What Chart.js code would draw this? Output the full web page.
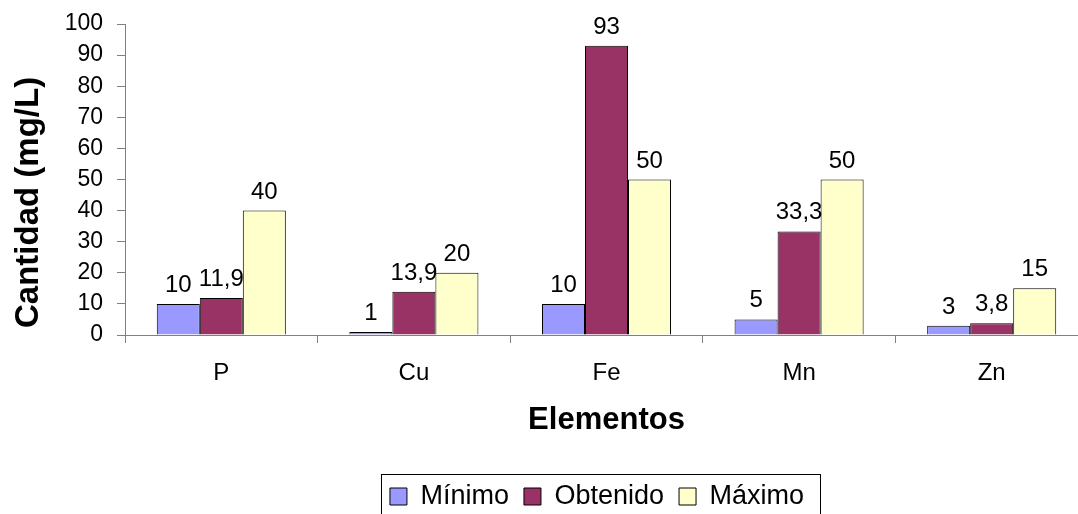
<!DOCTYPE html>
<html>
<head>
<meta charset="utf-8">
<script src="https://cdn.jsdelivr.net/npm/chart.js@4/dist/chart.umd.min.js"></script>
<style>
  html, body { margin: 0; padding: 0; background: #fff; overflow: hidden; }
</style>
</head>
<body>
<canvas id="elementosChart" width="1090" height="514"></canvas>
<script>
// Datos del gráfico
const elementos = ['P', 'Cu', 'Fe', 'Mn', 'Zn'];
const minimo = [10, 1, 10, 5, 3];
const obtenido = [11.9, 13.9, 93, 33.3, 3.8];
const maximo = [40, 20, 50, 50, 15];
const ticksY = [0, 10, 20, 30, 40, 50, 60, 70, 80, 90, 100];

const fuente = "'Liberation Sans', Arial, sans-serif";

// Etiquetas de valor encima de cada barra (coma decimal)
const etiquetasValor = {
  id: 'etiquetasValor',
  afterDatasetsDraw(chart) {
    const ctx = chart.ctx;
    ctx.save();
    ctx.font = '24px ' + fuente;
    ctx.fillStyle = '#000';
    ctx.textAlign = 'center';
    ctx.textBaseline = 'alphabetic';
    chart.data.datasets.forEach((ds, i) => {
      chart.getDatasetMeta(i).data.forEach((bar, j) => {
        const txt = String(ds.data[j]).replace('.', ',');
        ctx.fillText(txt, bar.x, bar.y - 12);
      });
    });
    ctx.restore();
  }
};

// Mueve la leyenda y le pone un marco
const marcoLeyenda = {
  id: 'marcoLeyenda',
  afterLayout(chart) {
    const lg = chart.legend;
    lg.left += 53; lg.right += 53;
    lg.top += 6; lg.bottom += 6;
  },
  afterDraw(chart) {
    const boxes = chart.legend.legendHitBoxes;
    if (!boxes || !boxes.length) return;
    const l = Math.min(...boxes.map(b => b.left));
    const r = Math.max(...boxes.map(b => b.left + b.width));
    const t = Math.min(...boxes.map(b => b.top));
    const ctx = chart.ctx;
    ctx.save();
    ctx.strokeStyle = '#000';
    ctx.lineWidth = 1;
    ctx.strokeRect(Math.round(l - 9) + 0.5, Math.round(t - 9) + 0.5, Math.round(r - l + 25), 80);
    ctx.restore();
  }
};

const ctx = document.getElementById('elementosChart');
new Chart(ctx.getContext('2d'), {
  type: 'bar',
  data: {
    labels: elementos,
    datasets: [
      { label: 'Mínimo', data: minimo, backgroundColor: '#9999FF', borderColor: '#000', borderWidth: 1 },
      { label: 'Obtenido', data: obtenido, backgroundColor: '#993366', borderColor: '#000', borderWidth: 1 },
      { label: 'Máximo', data: maximo, backgroundColor: '#FFFFCC', borderColor: '#000', borderWidth: 1 }
    ]
  },
  options: {
    responsive: false,
    animation: false,
    devicePixelRatio: 1,
    layout: { padding: { top: 24, right: 2, left: 0, bottom: 0 } },
    datasets: { bar: { categoryPercentage: 0.67, barPercentage: 1 } },
    plugins: {
      tooltip: { enabled: false },
      legend: {
        position: 'bottom',
        labels: {
          color: '#000',
          font: { family: fuente, size: 27 },
          boxWidth: 17,
          boxHeight: 17,
          padding: 15
        }
      }
    },
    scales: {
      x: {
        afterFit(s) { s.height = 127; },
        border: { display: true, color: '#808080', width: 1 },
        grid: { display: true, drawOnChartArea: false, tickLength: 8, color: '#808080', offset: true },
        ticks: { color: '#000', font: { family: fuente, size: 24 }, padding: 16, maxRotation: 0 },
        title: {
          display: true,
          text: 'Elementos',
          color: '#000',
          font: { family: fuente, size: 31, weight: 'bold' },
          padding: { top: 0, bottom: 23 }
        }
      },
      y: {
        min: 0,
        max: 100,
        afterFit(s) { s.width = 125; s.paddingTop = 0; s.paddingBottom = 0; },
        afterBuildTicks(s) { s.ticks = ticksY.map(v => ({ value: v })); },
        border: { display: true, color: '#808080', width: 1 },
        grid: { display: true, drawOnChartArea: false, tickLength: 8, color: '#808080' },
        ticks: { color: '#000', font: { family: fuente, size: 23 }, padding: 14 },
        title: {
          display: true,
          text: 'Cantidad (mg/L)     ',
          color: '#000',
          font: { family: fuente, size: 33, weight: 'bold' },
          padding: { top: 9, bottom: 0 }
        }
      }
    }
  },
  plugins: [etiquetasValor, marcoLeyenda]
});
</script>
</body>
</html>
